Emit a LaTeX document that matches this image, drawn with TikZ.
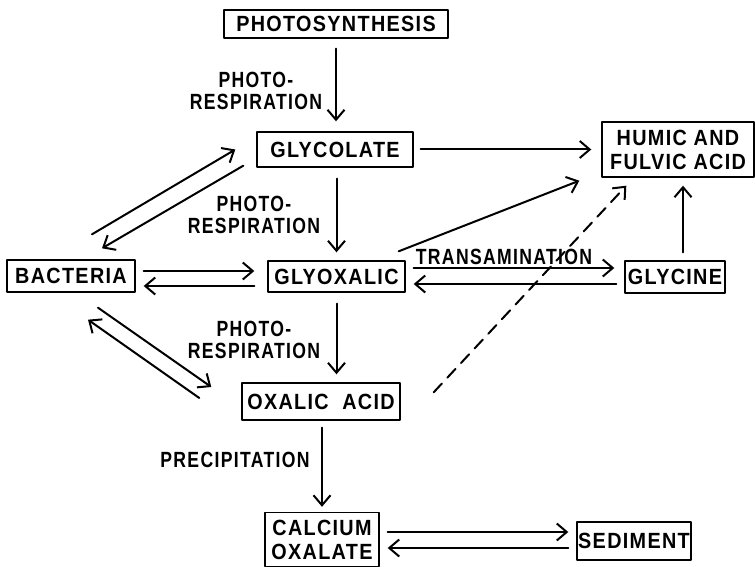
\documentclass[tikz,border=0pt]{standalone}
\usepackage{fontspec}
\setmainfont{Liberation Sans}
\newfontfamily\boxfont{Liberation Sans}[FakeStretch=0.9,LetterSpace=6]
\newfontfamily\lblfont{Liberation Sans}[FakeStretch=0.8,LetterSpace=6]
\usetikzlibrary{arrows.meta}
\usetikzlibrary{positioning}
\usetikzlibrary{calc}

\begin{document}
\begin{tikzpicture}[x=1pt,y=-1pt,line cap=round,line join=round,
  >={Straight Barb[length=10pt,width=17pt,line width=2pt]},
  box/.style={draw,line width=1.4pt,inner sep=0pt,align=center,
    font=\boxfont\fontsize{22}{24}\selectfont\bfseries},
  lbl/.style={align=center,inner sep=0pt,font=\lblfont\fontsize{22}{22}\selectfont\bfseries},
  flow/.style={->,line width=2pt}]
\useasboundingbox (0,0) rectangle (755,567);
\node[box,minimum width=224,minimum height=28] (photo) at (336,24) {PHOTOSYNTHESIS};
\node[box,minimum width=156,minimum height=35] (glycolate) at (335,149.5) {GLYCOLATE};
\node[box,minimum width=152,minimum height=55] (humic) at (678,149.5) {HUMIC AND\\FULVIC ACID};
\node[box,minimum width=128,minimum height=32] (bacteria) at (71,276) {BACTERIA};
\node[box,minimum width=137,minimum height=31] (glyoxalic) at (336.5,276.5) {GLYOXALIC};
\node[box,minimum width=100,minimum height=32] (glycine) at (675,277) {GLYCINE};
\node[box,minimum width=158,minimum height=37] (oxalic) at (321,401.5) {OXALIC\ \ ACID};
\node[box,minimum width=114,minimum height=54] (calcium) at (322,539.5) {CALCIUM\\OXALATE};
\node[box,minimum width=114,minimum height=38] (sediment) at (634,541) {SEDIMENT};
\node[lbl] (pr1) at (256,91) {PHOTO-\\RESPIRATION};
\node[lbl] (pr2) at (254,215) {PHOTO-\\RESPIRATION};
\node[lbl] (pr3) at (254,340) {PHOTO-\\RESPIRATION};
\node[lbl] (precip) at (235,460) {PRECIPITATION};
\node[lbl] (trans) at (504,257) {TRANSAMINATION};
\draw[flow] ($(photo.south)+(0,10)$) -- ($(photo.south |- glycolate.north)+(0,-10)$);
\draw[flow] ($(glyoxalic.north |- glycolate.south)+(0,11)$) -- ($(glyoxalic.north)+(0,-8)$);
\draw[flow] ($(glyoxalic.south)+(0,11)$) -- ($(glyoxalic.south |- oxalic.north)+(0,-8)$);
\draw[flow] ($(oxalic.south)+(1,7)$) -- ($(calcium.north)+(0,-5)$);
\draw[flow] ($(glycolate.east)+(7,0)$) -- ($(humic.west |- glycolate.east)+(-10,0)$);
\draw[flow] ($(glyoxalic.north east)+(-7,-9)$) -- ($(humic.south west)+(-22,3)$);
\draw[flow,dash pattern=on 12pt off 8pt] ($(oxalic.north east)+(33,10)$) -- ($(humic.south west)+(25,8)$);
\draw[flow] ($(glycine.north)+(8,-8)$) -- ($(humic.south)+(5,8)$);
\draw[flow] ($(glyoxalic.east)+(8,-8.5)$) -- ($(glycine.west)+(-10,-9)$);
\draw[flow] ($(glycine.west)+(-8,7)$) -- ($(glyoxalic.east)+(8,7.5)$);
\draw[flow] ($(bacteria.east)+(8,-5)$) -- ($(glyoxalic.west)+(-13,-5.5)$);
\draw[flow] ($(glyoxalic.west)+(-13,9.5)$) -- ($(bacteria.east)+(8,10)$);
\draw[flow] ($(bacteria.north)+(21,-25)$) -- ($(glycolate.west)+(-21,0)$);
\draw[flow] ($(glycolate.south west)+(-13,-2)$) -- ($(bacteria.north)+(31,-11)$);
\draw[flow] ($(bacteria.south)+(27,15)$) -- ($(oxalic.west)+(-30,-14.5)$);
\draw[flow] ($(oxalic.west)+(-42,-3.5)$) -- ($(bacteria.south)+(17,27)$);
\draw[flow] ($(calcium.east)+(8,-7.5)$) -- ($(sediment.west)+(-8,-9)$);
\draw[flow] ($(sediment.west)+(-8,7)$) -- ($(calcium.east)+(8,8.5)$);
\end{tikzpicture}
\end{document}
